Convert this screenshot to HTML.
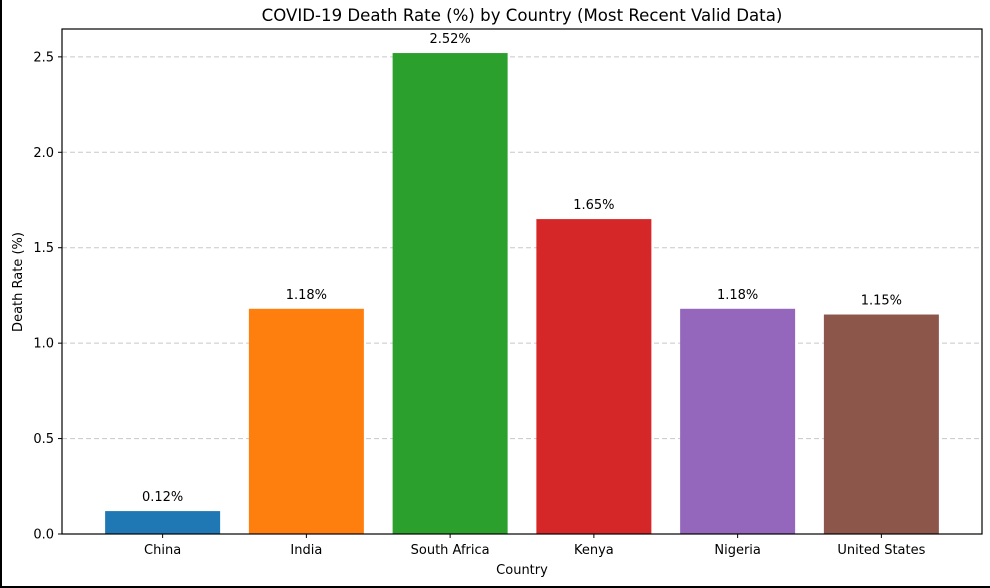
<!DOCTYPE html>
<html><head><meta charset="utf-8"><style>
html,body{margin:0;padding:0;background:#fff}
svg{display:block;font-family:"DejaVu Sans","Liberation Sans",sans-serif}
</style></head><body>
<svg id="chart" width="990" height="588" viewBox="0 0 990 588">
<rect x="0" y="0" width="990" height="588" fill="#fff"/>
<line x1="1" y1="0" x2="1" y2="588" stroke="#000" stroke-width="2"/>
<line x1="0" y1="587" x2="990" y2="587" stroke="#000" stroke-width="2"/>
<text x="522" y="21" font-size="16.6" text-anchor="middle">COVID-19 Death Rate (%) by Country (Most Recent Valid Data)</text>
<g id="grid"></g><g id="bars"></g><g id="axes"></g>
<text x="522" y="574" font-size="13" text-anchor="middle">Country</text>
<text transform="translate(22,282) rotate(-90)" font-size="13" text-anchor="middle">Death Rate (%)</text>
</svg>
<script>
const categories=["China","India","South Africa","Kenya","Nigeria","United States"];
const values=[0.12,1.18,2.52,1.65,1.18,1.15];
const valueLabels=["0.12%","1.18%","2.52%","1.65%","1.18%","1.15%"];
const colors=["#1f77b4","#ff7f0e","#2ca02c","#d62728","#9467bd","#8c564b"];
const yTicks=[0,0.5,1,1.5,2,2.5];
const yTickLabels=["0.0","0.5","1.0","1.5","2.0","2.5"];
const NS="http://www.w3.org/2000/svg";
const L=62,R=982,T=29,B=534;
const yMax=Math.max(...values)*1.05;
const y=v=>B-(v/yMax)*(B-T);
const n=categories.length,step=(R-L)/(n-1+1.4);
const x=i=>L+step*(0.7+i);
function mk(tag,attrs,parent){const e=document.createElementNS(NS,tag);for(const k in attrs)e.setAttribute(k,attrs[k]);parent.appendChild(e);return e;}
const grid=document.getElementById('grid'),bars=document.getElementById('bars'),axes=document.getElementById('axes');
yTicks.forEach((t,i)=>{
 const g=mk('line',{x1:L,x2:R,y1:y(t),y2:y(t),stroke:'#c8c8c8','stroke-dasharray':'5,3','stroke-width':1},grid);
 
 
 const tk=mk('line',{x1:L-4,x2:L,y1:y(t),y2:y(t),stroke:'#000'},axes);
 
 
 const tl=mk('text',{x:L-8,y:y(t)+4.5,'font-size':13,'text-anchor':'end'},axes);
 tl.textContent=yTickLabels[i];
 
 
});
const bw=step*0.8;
values.forEach((v,i)=>{
 const r=mk('rect',{x:x(i)-bw/2,y:y(v),width:bw,height:B-y(v),fill:colors[i]},bars);
 
 
 const vl=mk('text',{x:x(i),y:y(v)-10,'font-size':13,'text-anchor':'middle'},bars);
 vl.textContent=valueLabels[i];
 
 
 const tk=mk('line',{x1:x(i),x2:x(i),y1:B,y2:B+4,stroke:'#000'},axes);
 
 
 const tl=mk('text',{x:x(i),y:B+20,'font-size':13,'text-anchor':'middle'},axes);
 tl.textContent=categories[i];
 
 
});
const f=mk('rect',{x:L,y:T,width:R-L,height:B-T,fill:'none',stroke:'#000','stroke-width':1.2},axes);


</script>
</body></html>
